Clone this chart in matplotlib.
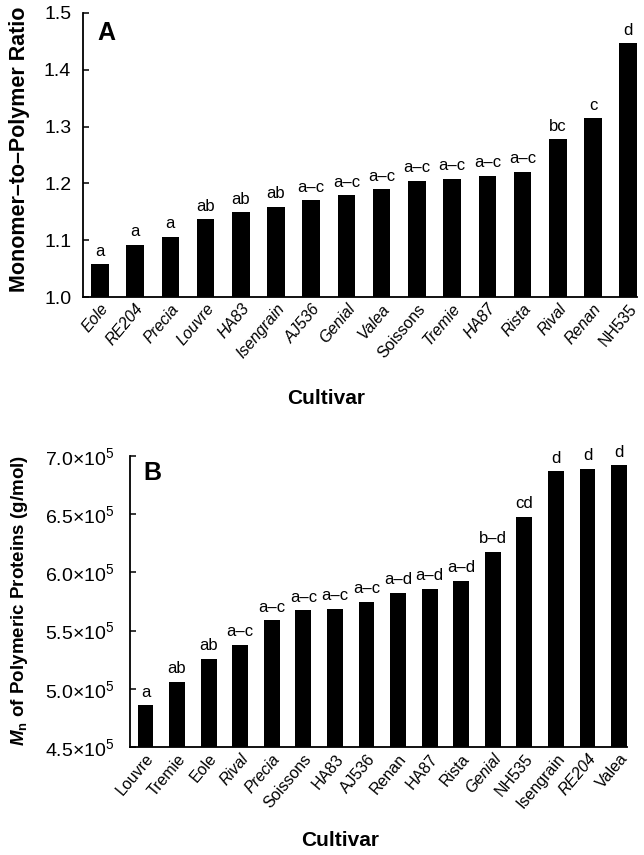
import numpy as np
import matplotlib.pyplot as plt
from matplotlib.ticker import FixedLocator, FuncFormatter

plt.rcParams['font.family'] = ['Liberation Sans', 'DejaVu Sans']
plt.rcParams['mathtext.fontset'] = 'custom'
plt.rcParams['mathtext.rm'] = 'Liberation Sans'
plt.rcParams['mathtext.it'] = 'Liberation Sans:italic'
plt.rcParams['mathtext.bf'] = 'Liberation Sans:bold'
plt.rcParams['mathtext.bfit'] = 'Liberation Sans:bold:italic'

# panel A: monomer-to-polymer ratio
cult_a = ['Eole', 'RE204', 'Precia', 'Louvre', 'HA83', 'Isengrain', 'AJ536', 'Genial',
          'Valea', 'Soissons', 'Tremie', 'HA87', 'Rista', 'Rival', 'Renan', 'NH535']
ratio = [1.058, 1.092, 1.106, 1.137, 1.149, 1.159, 1.170, 1.179,
         1.190, 1.205, 1.208, 1.213, 1.220, 1.278, 1.315, 1.447]
grp_a = ['a', 'a', 'a', 'ab', 'ab', 'ab', 'a–c', 'a–c',
         'a–c', 'a–c', 'a–c', 'a–c', 'a–c', 'bc', 'c', 'd']
upright_a = ['Soissons', 'NH535']

# panel B: Mn of polymeric proteins (x1e5 g/mol)
cult_b = ['Louvre', 'Tremie', 'Eole', 'Rival', 'Precia', 'Soissons', 'HA83', 'AJ536',
          'Renan', 'HA87', 'Rista', 'Genial', 'NH535', 'Isengrain', 'RE204', 'Valea']
mn = [4.86, 5.06, 5.26, 5.38, 5.59, 5.675, 5.686, 5.746,
      5.823, 5.857, 5.926, 6.175, 6.48, 6.87, 6.89, 6.92]
grp_b = ['a', 'ab', 'ab', 'a–c', 'a–c', 'a–c', 'a–c', 'a–c',
         'a–d', 'a–d', 'a–d', 'b–d', 'cd', 'd', 'd', 'd']
italic_b = ['Rival', 'Precia', 'Genial', 'RE204']

W, H = 644, 855
fig = plt.figure(figsize=(W / 100, H / 100), dpi=100)


def px_axes(l, t, r, b):
    return fig.add_axes([l / W, 1 - b / H, (r - l) / W, (b - t) / H])


def style(ax, pad):
    for s in ['top', 'right']:
        ax.spines[s].set_visible(False)
    for s in ['left', 'bottom']:
        ax.spines[s].set_linewidth(1.3)
    ax.tick_params(axis='y', direction='in', length=4, width=1.1, labelsize=14, pad=pad)
    ax.tick_params(axis='x', length=0, pad=3)


# ---- A ----
ax1 = px_axes(83, 13, 637, 297)
x = np.arange(len(cult_a))
ax1.bar(x, ratio, width=0.5, color='black')
ax1.set_ylim(1.0, 1.5)
ax1.set_xlim(-0.48, 15.25)
ax1.yaxis.set_major_locator(FixedLocator([1.0, 1.1, 1.2, 1.3, 1.4, 1.5]))
ax1.yaxis.set_major_formatter(FuncFormatter(lambda v, p: f'{v:.1f}'))
style(ax1, 8.5)
ax1.set_xticks(x)
ax1.set_xticklabels(cult_a, rotation=50, ha='right', rotation_mode='anchor', fontsize=11.5)
for lab in ax1.get_xticklabels():
    lab.set_style('normal' if lab.get_text() in upright_a else 'italic')
for xi, v, g in zip(x, ratio, grp_a):
    ax1.annotate(g, (xi, v), xytext=(0, 4), textcoords='offset points',
                 ha='center', va='bottom', fontsize=12)
ax1.text(97 / W, 1 - 33 / H, 'A', transform=fig.transFigure, fontsize=18,
         fontweight='bold', va='center', ha='left')
ax1.set_ylabel('Monomer–to–Polymer Ratio', fontsize=15.5, fontweight='bold')
ax1.yaxis.set_label_coords((30 - 83) / 554, 0.52)
fig.text(326 / W, 1 - 398 / H, 'Cultivar', fontsize=15, fontweight='bold',
         ha='center', va='center')

# ---- B ----
ax2 = px_axes(130, 456, 627, 747)
xb = np.arange(len(cult_b))
ax2.bar(xb, mn, width=0.5, color='black')
ax2.set_ylim(4.5, 7.0)
ax2.set_xlim(-0.49, 15.25)
ax2.yaxis.set_major_locator(FixedLocator([4.5, 5.0, 5.5, 6.0, 6.5, 7.0]))
ax2.yaxis.set_major_formatter(FuncFormatter(lambda v, p: f'{v:.1f}×10$^5$'))
style(ax2, 11)
ax2.set_xticks(xb)
ax2.set_xticklabels(cult_b, rotation=50, ha='right', rotation_mode='anchor', fontsize=11.5)
for lab in ax2.get_xticklabels():
    lab.set_style('italic' if lab.get_text() in italic_b else 'normal')
for xi, v, g in zip(xb, mn, grp_b):
    ax2.annotate(g, (xi, v), xytext=(0, 4), textcoords='offset points',
                 ha='center', va='bottom', fontsize=12)
ax2.text(143 / W, 1 - 473 / H, 'B', transform=fig.transFigure, fontsize=18,
         fontweight='bold', va='center', ha='left')
ax2.set_ylabel(r'$\mathbfit{M}_{\mathbf{n}}$ of Polymeric Proteins (g/mol)',
               fontsize=13.5, fontweight='bold')
ax2.yaxis.set_label_coords((30 - 130) / 497, 0.505)
fig.text(340 / W, 1 - 840 / H, 'Cultivar', fontsize=15, fontweight='bold',
         ha='center', va='center')

fig.savefig('out.png', dpi=100)
